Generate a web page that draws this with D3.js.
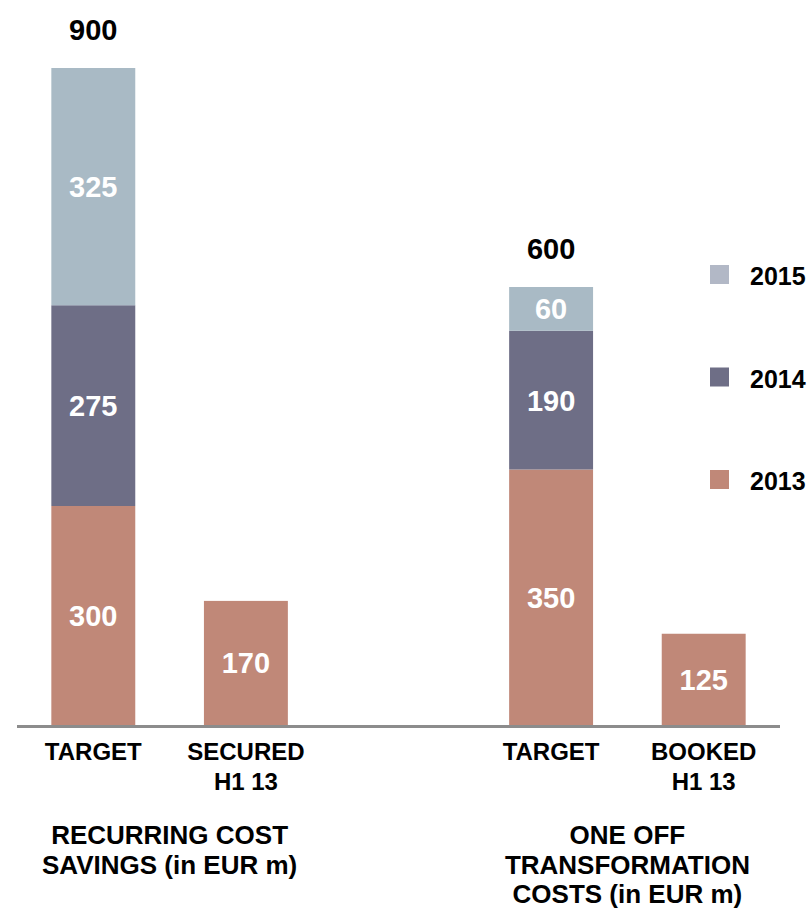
<!DOCTYPE html>
<html>
<head>
<meta charset="utf-8">
<script src="https://cdn.jsdelivr.net/npm/d3@7"></script>
<style>
  body { margin: 0; background: #fff; }
  text { font-family: "Liberation Sans", Arial, sans-serif; font-weight: bold; }
</style>
</head>
<body>
<div id="chart"></div>
<script>
// chart data
const slots = ["target1", "secured", "gap", "target2", "booked"];
const slotLabels = [["TARGET"], ["SECURED", "H1 13"], [], ["TARGET"], ["BOOKED", "H1 13"]];
const years = ["2013", "2014", "2015"];
const values2013 = [300, 170, 0, 350, 125];
const values2014 = [275, 0, 0, 190, 0];
const values2015 = [325, 0, 0, 60, 0];
const totals = [900, null, null, 600, null];
const groupTitles = [
    {slots: ["target1", "secured"], lines: ["RECURRING COST", "SAVINGS (in EUR m)"]},
    {slots: ["target2", "booked"], lines: ["ONE OFF", "TRANSFORMATION", "COSTS (in EUR m)"]}
];

const width = 811, height = 911;
const barColors = {"2013": "#c08878", "2014": "#6e6e86", "2015": "#a9bac5"};
const legendColors = {"2013": "#c08878", "2014": "#6e6e86", "2015": "#b2b8c6"};

const svg = d3.select('#chart')
    .append('svg')
    .attr('width', width)
    .attr('height', height);

// build rows for the stack
const rows = slots.map((s, i) => ({
    slot: s, "2013": values2013[i], "2014": values2014[i], "2015": values2015[i], total: totals[i]
}));

const x = d3.scaleBand()
    .domain(slots)
    .range([17, 780])
    .paddingInner(0.45)
    .paddingOuter(0.225);
const y = d3.scaleLinear()
    .domain([0, 900])
    .range([725, 68]);

const stack = d3.stack().keys(years)(rows);

// bars
const layers = svg.append('g')
    .selectAll('g')
    .data(stack)
    .enter()
    .append('g')
    .attr('fill', d => barColors[d.key]);

layers.selectAll('rect')
    .data(d => d.filter(p => p[1] > p[0]))
    .enter()
    .append('rect')
    .attr('x', d => x(d.data.slot))
    .attr('width', x.bandwidth())
    .attr('y', d => y(d[1]))
    .attr('height', d => y(d[0]) - y(d[1]));

// value labels inside segments
layers.selectAll('text')
    .data(d => d.filter(p => p[1] > p[0]))
    .enter()
    .append('text')
    .attr('x', d => x(d.data.slot) + x.bandwidth() / 2)
    .attr('y', d => (y(d[0]) + y(d[1])) / 2)
    .attr('dy', '0.36em')
    .attr('text-anchor', 'middle')
    .attr('fill', '#fff')
    .style('font-size', '29px')
    .text(d => d[1] - d[0]);

// totals above bars
svg.append('g')
    .selectAll('text')
    .data(rows.filter(r => r.total != null))
    .enter()
    .append('text')
    .attr('x', d => x(d.slot) + x.bandwidth() / 2)
    .attr('y', d => y(d.total) - 28)
    .attr('text-anchor', 'middle')
    .attr('fill', '#000')
    .style('font-size', '29px')
    .text(d => d.total);

// baseline
svg.append('line')
    .attr('x1', 17)
    .attr('x2', 780)
    .attr('y1', y(0) + 1.5)
    .attr('y2', y(0) + 1.5)
    .attr('stroke', '#8c8c8c')
    .attr('stroke-width', 3);

// category labels
const cat = svg.append('g')
    .selectAll('text')
    .data(slots.map((s, i) => ({slot: s, lines: slotLabels[i]})))
    .enter()
    .append('text')
    .attr('text-anchor', 'middle')
    .attr('fill', '#000')
    .style('font-size', '24px');
cat.selectAll('tspan')
    .data(d => d.lines.map((l, j) => ({slot: d.slot, line: l, j: j})))
    .enter()
    .append('tspan')
    .attr('x', d => x(d.slot) + x.bandwidth() / 2)
    .attr('y', d => 760 + d.j * 30)
    .text(d => d.line);

// group titles
const gt = svg.append('g')
    .selectAll('text')
    .data(groupTitles)
    .enter()
    .append('text')
    .attr('text-anchor', 'middle')
    .attr('fill', '#000')
    .style('font-size', '26px');
gt.selectAll('tspan')
    .data(d => {
        const cx = (x(d.slots[0]) + x(d.slots[1]) + x.bandwidth()) / 2;
        return d.lines.map((l, j) => ({cx: cx, line: l, j: j}));
    })
    .enter()
    .append('tspan')
    .attr('x', d => d.cx)
    .attr('y', d => 844 + d.j * 29.5)
    .text(d => d.line);

// legend (2015 on top)
const legendYears = years.slice().reverse();
const legend = svg.append('g')
    .selectAll('g')
    .data(legendYears)
    .enter()
    .append('g')
    .attr('transform', (d, i) => `translate(710, ${265 + i * 102.5})`);
legend.append('rect')
    .attr('width', 19)
    .attr('height', 19)
    .attr('fill', d => legendColors[d]);
legend.append('text')
    .attr('x', 40)
    .attr('y', 20)
    .attr('fill', '#000')
    .style('font-size', '25px')
    .text(d => d);
</script>
</body>
</html>
